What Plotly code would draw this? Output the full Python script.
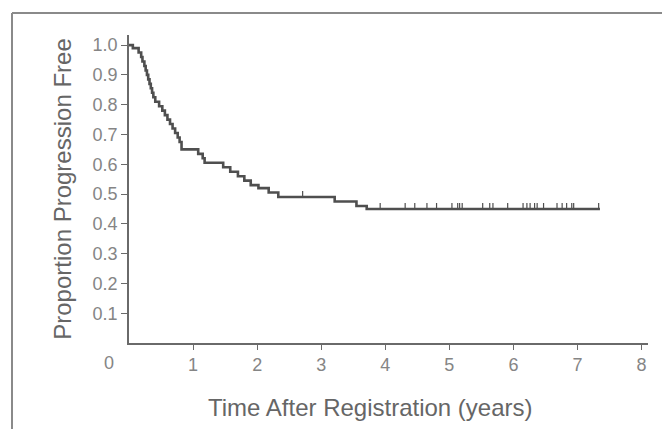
import plotly.graph_objects as go
import numpy as np

# Kaplan-Meier step curve (years, proportion progression free)
step_times = [0, 0.06, 0.15, 0.19, 0.21, 0.24, 0.26, 0.28, 0.30, 0.32, 0.34, 0.36, 0.38,
              0.41, 0.47, 0.52, 0.56, 0.60, 0.64, 0.68, 0.72, 0.76, 0.79, 0.82, 1.08,
              1.15, 1.18, 1.47, 1.58, 1.70, 1.80, 1.90, 2.02, 2.18, 2.33, 3.21, 3.55,
              3.71, 7.35]
step_surv = [1.0, 0.99, 0.975, 0.96, 0.945, 0.93, 0.915, 0.90, 0.885, 0.87, 0.855, 0.84,
             0.825, 0.81, 0.795, 0.78, 0.765, 0.75, 0.735, 0.72, 0.705, 0.69, 0.675,
             0.65, 0.635, 0.62, 0.605, 0.59, 0.575, 0.56, 0.545, 0.53, 0.52, 0.505,
             0.49, 0.475, 0.46, 0.45, 0.45]

# Censoring times (years)
censor_times = [2.71, 3.92, 4.31, 4.46, 4.65, 4.80, 5.04, 5.13, 5.16, 5.20, 5.52, 5.63,
                5.68, 5.91, 6.15, 6.21, 6.26, 6.33, 6.37, 6.47, 6.68, 6.76, 6.83, 6.91,
                6.94, 7.33]

y_ticks = [0.1, 0.2, 0.3, 0.4, 0.5, 0.6, 0.7, 0.8, 0.9, 1.0]
x_ticks = [1, 2, 3, 4, 5, 6, 7, 8]

# figure is offset 8px by the page's body margin
W, H = 662, 421
ML, MT = 4, 5            # outer frame position (left / top)
PW, PH = W - ML, H - MT  # frame area
x_range = [0, 8.1]
y_range = [0, 1.034]
x_dom = [(121 - ML) / PW, (640 - ML) / PW]
y_dom = [(H - 335) / PH, (H - 27) / PH]

line_col = "#4f4f4f"
tick_col = "#858585"
title_col = "#666666"
axis_col = "#6a6a6a"
font_family = "Liberation Sans, Arial, sans-serif"

# survival at censor times (step lookup)
st = np.array(step_times)
ss = np.array(step_surv)
censor_surv = [float(ss[np.searchsorted(st, c, side="right") - 1]) for c in censor_times]

fig = go.Figure()
# invisible trace for the frame axes (drawn first, underneath)
fig.add_trace(go.Scatter(x=[0], y=[0], xaxis="x2", yaxis="y2", mode="markers",
                         marker=dict(opacity=0), hoverinfo="skip", showlegend=False))
fig.add_trace(go.Scatter(
    x=step_times, y=step_surv, mode="lines", line_shape="hv",
    line=dict(color=line_col, width=2.6), hoverinfo="skip", showlegend=False))
fig.add_trace(go.Scatter(
    x=censor_times, y=censor_surv, mode="markers",
    marker=dict(size=1, color=line_col, opacity=0),
    error_y=dict(type="data", symmetric=False, array=[0.02] * len(censor_times),
                 arrayminus=[0] * len(censor_times), width=0, thickness=1.2,
                 color=line_col),
    hoverinfo="skip", showlegend=False))

fig.update_layout(
    width=W, height=H,
    margin=dict(l=ML, r=0, t=MT, b=0, pad=0, autoexpand=False),
    paper_bgcolor="white", plot_bgcolor="rgba(0,0,0,0)",
    font=dict(family=font_family, color=tick_col, size=18),
    xaxis=dict(domain=x_dom, range=x_range, tickvals=x_ticks,
               ticktext=[str(v) for v in x_ticks],
               showline=True, linecolor=axis_col, linewidth=1.5, showgrid=False,
               zeroline=False, ticks="outside", ticklen=5, tickcolor=axis_col,
               tickwidth=1, tickfont=dict(size=18, color=tick_col),
               automargin=False, anchor="y"),
    yaxis=dict(domain=y_dom, range=y_range, tickvals=y_ticks,
               ticktext=[f"{v:.1f}" for v in y_ticks],
               showline=True, linecolor=axis_col, linewidth=1.5, showgrid=False,
               zeroline=False, ticks="outside", ticklen=6, tickcolor=axis_col,
               tickwidth=1, tickfont=dict(size=18, color=tick_col),
               title=dict(text="Proportion Progression Free",
                          font=dict(size=24, color=title_col), standoff=14),
               automargin=False, anchor="x"),
    xaxis2=dict(domain=[0, 1], anchor="free", position=1, side="top", range=[0, 1],
                showline=True, linecolor="#8a8a8a", linewidth=1.5, showgrid=False,
                zeroline=False, showticklabels=False, ticks=""),
    yaxis2=dict(domain=[0, 1], anchor="free", position=0, side="left", range=[0, 1],
                showline=True, linecolor="#8a8a8a", linewidth=1.5, showgrid=False,
                zeroline=False, showticklabels=False, ticks=""),
)

# x-axis title placed as in the reference (slightly left of plot centre)
fig.add_annotation(x=(362 - ML) / PW, y=(H - 399) / PH, xref="paper", yref="paper",
                   text="Time After Registration (years)", showarrow=False,
                   xanchor="center", yanchor="middle",
                   font=dict(size=24, color=title_col))

# "0" origin label
fig.add_annotation(x=0, y=0, xref="x", yref="y", text="0", showarrow=False,
                   xshift=-20, yshift=-20, font=dict(size=18, color=tick_col))

fig.write_html("out.html")
